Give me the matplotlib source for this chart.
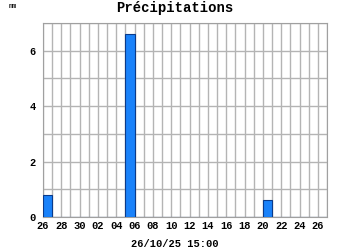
import numpy as np
import matplotlib
import matplotlib.pyplot as plt

matplotlib.use("Agg")

# daily rainfall (mm), one value per day starting 26/09
days = list(range(31))
rain = [0.8, 0, 0, 0, 0, 0, 0, 0, 0, 6.6,
        0, 0, 0, 0, 0, 0, 0, 0, 0, 0,
        0, 0, 0, 0, 0.6, 0, 0, 0, 0, 0, 0]
tick_pos = list(range(0, 31, 2))
tick_labels = ['26', '28', '30', '02', '04', '06', '08', '10', '12',
               '14', '16', '18', '20', '22', '24', '26']

mono = 'Liberation Mono'

fig = plt.figure(figsize=(3.5, 2.5), dpi=100)
ax = fig.add_axes([43 / 350, 1 - 217 / 250, 284 / 350, 194 / 250])

ax.bar(days, rain, width=1, align='edge', color='#1a82fa',
       edgecolor='#0a3a8a', linewidth=0.8, zorder=3)

ax.set_xlim(0, 31)
ax.set_ylim(0, 7)
ax.set_xticks(range(32), minor=True)
ax.set_yticks(range(8), minor=True)
ax.set_xticks(tick_pos)
ax.set_xticklabels(tick_labels)
ax.set_yticks([0, 2, 4, 6])
ax.grid(True, which='both', color='#b4b4b4', linewidth=1, zorder=0)
ax.tick_params(which='both', length=0)
ax.tick_params(axis='x', pad=3)
ax.tick_params(axis='y', pad=5)
for lbl in ax.get_xticklabels() + ax.get_yticklabels():
    lbl.set_fontfamily(mono)
    lbl.set_fontweight('bold')
    lbl.set_fontsize(7.5)
for s in ax.spines.values():
    s.set_color('#a0a0a0')

fig.text(175 / 350, 1 - 8 / 250, 'Précipitations', ha='center', va='center',
         fontfamily=mono, fontweight='bold', fontsize=10)
fig.text(13 / 350, 1 - 7 / 250, 'mm', ha='center', va='center',
         fontfamily=mono, fontsize=5)
fig.text(175 / 350, 1 - 244 / 250, '26/10/25 15:00', ha='center', va='center',
         fontfamily=mono, fontweight='bold', fontsize=7.5)

plt.savefig('out.png', dpi=100)
plt.close(fig)
